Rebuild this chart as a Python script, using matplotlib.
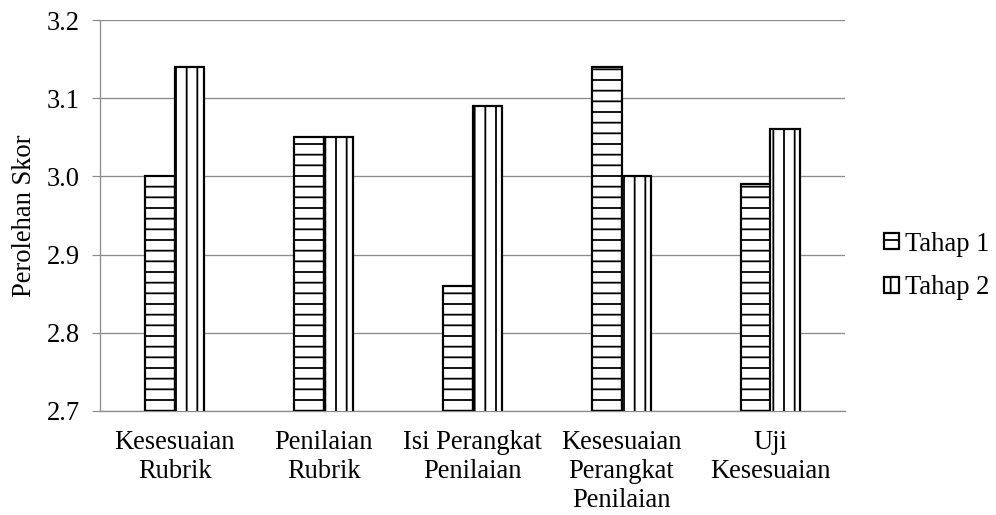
import matplotlib
matplotlib.use("Agg")
import matplotlib.pyplot as plt
from matplotlib.patches import Patch
import numpy as np

categories = ["Kesesuaian\nRubrik", "Penilaian\nRubrik", "Isi Perangkat\nPenilaian",
              "Kesesuaian\nPerangkat\nPenilaian", "Uji\nKesesuaian"]
tahap1 = [3.00, 3.05, 2.86, 3.14, 2.99]
tahap2 = [3.14, 3.05, 3.09, 3.00, 3.06]
series_names = ["Tahap 1", "Tahap 2"]
yticks = [2.7, 2.8, 2.9, 3.0, 3.1, 3.2]

DPI = 64
W, H = 996, 515
PX = 72.0 / DPI  # points per pixel

plt.rcParams['font.family'] = ['Liberation Serif', 'DejaVu Serif']
plt.rcParams['hatch.linewidth'] = 1.8 * PX

fig = plt.figure(figsize=(W / DPI, H / DPI), dpi=DPI)
ax = fig.add_axes([100 / W, (H - 411) / H, 745 / W, 391 / H])

fs = 26.5 * PX
x = np.arange(len(categories))
bw = 0.2
gray = '#8c8c8c'

ax.bar(x - bw / 2, tahap1, bw, color='white', edgecolor='black',
       linewidth=2.2 * PX, hatch='-', zorder=3)
ax.bar(x + bw / 2, tahap2, bw, color='white', edgecolor='black',
       linewidth=2.2 * PX, hatch='|', zorder=3)

ax.set_ylim(2.7, 3.2)
ax.set_xlim(-0.5, len(categories) - 0.5)
ax.set_yticks(yticks)
ax.set_yticklabels([f"{v:.1f}" for v in yticks], fontsize=fs)
ax.set_xticks(x)
ax.set_xticklabels(categories, fontsize=fs, linespacing=1.2)
ax.tick_params(axis='x', length=0, pad=19 * PX)
ax.tick_params(axis='y', length=8 * PX, width=1.2 * PX, color=gray, pad=12 * PX)
ax.yaxis.grid(True, color=gray, linewidth=1.3 * PX, zorder=0)
ax.set_axisbelow(True)
for s in ['top', 'right']:
    ax.spines[s].set_visible(False)
for s in ['left', 'bottom']:
    ax.spines[s].set_color(gray)
    ax.spines[s].set_linewidth(1.3 * PX)
ax.set_ylabel("Perolehan Skor", fontsize=fs, labelpad=10 * PX)

handles = [Patch(facecolor='white', edgecolor='black', hatch='-', linewidth=2.2 * PX),
           Patch(facecolor='white', edgecolor='black', hatch='|', linewidth=2.2 * PX)]
fig.legend(handles, series_names, loc='center left',
           bbox_to_anchor=(884 / W, 1 - 266 / H), frameon=False, fontsize=fs,
           handlelength=0.55, handleheight=0.55, handletextpad=0.25,
           labelspacing=0.7, borderpad=0, borderaxespad=0)

fig.savefig("out.png", dpi=DPI)
